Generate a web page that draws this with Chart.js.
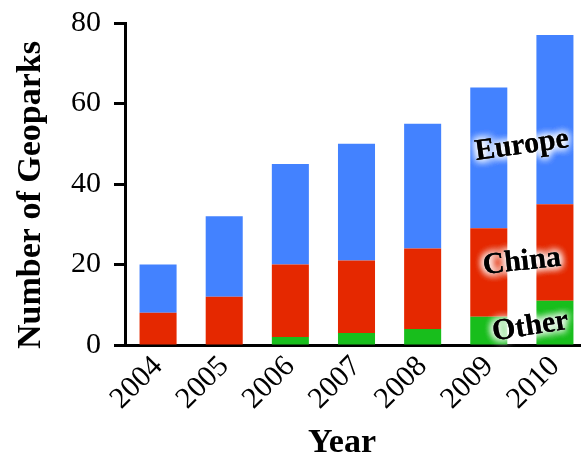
<!DOCTYPE html>
<html>
<head>
<meta charset="utf-8">
<script src="https://cdn.jsdelivr.net/npm/chart.js@4.4.1/dist/chart.umd.min.js"></script>
<style>
  html, body { margin: 0; padding: 0; background: #fff; overflow: hidden; }
  #wrap { width: 581px; height: 458px; overflow: hidden; }
</style>
</head>
<body>
<div id="wrap"><canvas id="geoparks" width="590" height="458"></canvas></div>
<script>
// Data
const years = ['2004', '2005', '2006', '2007', '2008', '2009', '2010'];
const otherCounts = [0, 0, 2, 3, 4, 7, 11];
const chinaCounts = [8, 12, 18, 18, 20, 22, 24];
const europeCounts = [12, 20, 25, 29, 31, 35, 42];
const yTicks = [0, 20, 40, 60, 80];

const serif = "'Liberation Serif', 'Times New Roman', serif";

// Glowing labels drawn on top of the last bars
const seriesLabels = [
    { text: 'Europe', index: 5.5, value: 49.5, angle: -8 },
    { text: 'China', index: 5.5, value: 20.6, angle: -6 },
    { text: 'Other', index: 5.63, value: 4.5, angle: -9 }
];

const glowLabels = {
    id: 'glowLabels',
    afterDatasetsDraw(chart) {
        const { ctx, scales: { x, y } } = chart;
        const step = x.getPixelForValue(1) - x.getPixelForValue(0);
        seriesLabels.forEach(lbl => {
            const px = x.getPixelForValue(0) + lbl.index * step;
            const py = y.getPixelForValue(lbl.value);
            ctx.save();
            ctx.translate(px, py);
            ctx.rotate(lbl.angle * Math.PI / 180);
            ctx.font = `bold 30px ${serif}`;
            ctx.textAlign = 'center';
            ctx.textBaseline = 'middle';
            ctx.shadowColor = 'rgba(255,255,255,1)';
            ctx.shadowBlur = 8;
            ctx.fillStyle = '#000';
            for (let i = 0; i < 4; i++) ctx.fillText(lbl.text, 0, 0);
            ctx.restore();
        });
    }
};

// Axis titles
const axisTitles = {
    id: 'axisTitles',
    afterDraw(chart) {
        const { ctx } = chart;
        ctx.save();
        ctx.fillStyle = '#000';
        ctx.font = `bold 34px ${serif}`;
        ctx.textAlign = 'center';
        ctx.textBaseline = 'middle';
        ctx.fillText('Year', 342, 443);
        ctx.translate(31, 195);
        ctx.rotate(-Math.PI / 2);
        ctx.fillText('Number of Geoparks', 0, 0);
        ctx.restore();
    }
};

new Chart(document.getElementById('geoparks'), {
    type: 'bar',
    data: {
        labels: years,
        datasets: [
            { label: 'Other', data: otherCounts, backgroundColor: '#18BE1C' },
            { label: 'China', data: chinaCounts, backgroundColor: '#E52800' },
            { label: 'Europe', data: europeCounts, backgroundColor: '#4382FF' }
        ]
    },
    options: {
        responsive: false,
        animation: false,
        devicePixelRatio: 1,
        layout: { padding: { left: 0, top: 23, right: 2, bottom: 0 } },
        plugins: { legend: { display: false }, tooltip: { enabled: false } },
        datasets: { bar: { barPercentage: 0.56, categoryPercentage: 1 } },
        scales: {
            x: {
                stacked: true,
                afterFit: s => {
                    s.height = 113;
                    s.paddingLeft = 0;
                    s.paddingRight = 0;
                },
                grid: { display: true, drawOnChartArea: false, drawTicks: false },
                border: { display: true, color: '#000', width: 3 },
                ticks: {
                    color: '#000',
                    font: { family: serif, size: 30 },
                    maxRotation: 45,
                    minRotation: 45,
                    padding: 4
                }
            },
            y: {
                stacked: true,
                min: 0,
                max: 80,
                afterFit: s => {
                    s.width = 125;
                    s.paddingTop = 0;
                    s.paddingBottom = 0;
                },
                afterBuildTicks: s => { s.ticks = yTicks.map(v => ({ value: v })); },
                grid: { drawOnChartArea: false, drawTicks: true, tickLength: 11, color: '#000', tickWidth: 3 },
                border: { display: true, color: '#000', width: 3 },
                ticks: {
                    color: '#000',
                    font: { family: serif, size: 30 },
                    padding: 13
                }
            }
        }
    },
    plugins: [glowLabels, axisTitles]
});
</script>
</body>
</html>
